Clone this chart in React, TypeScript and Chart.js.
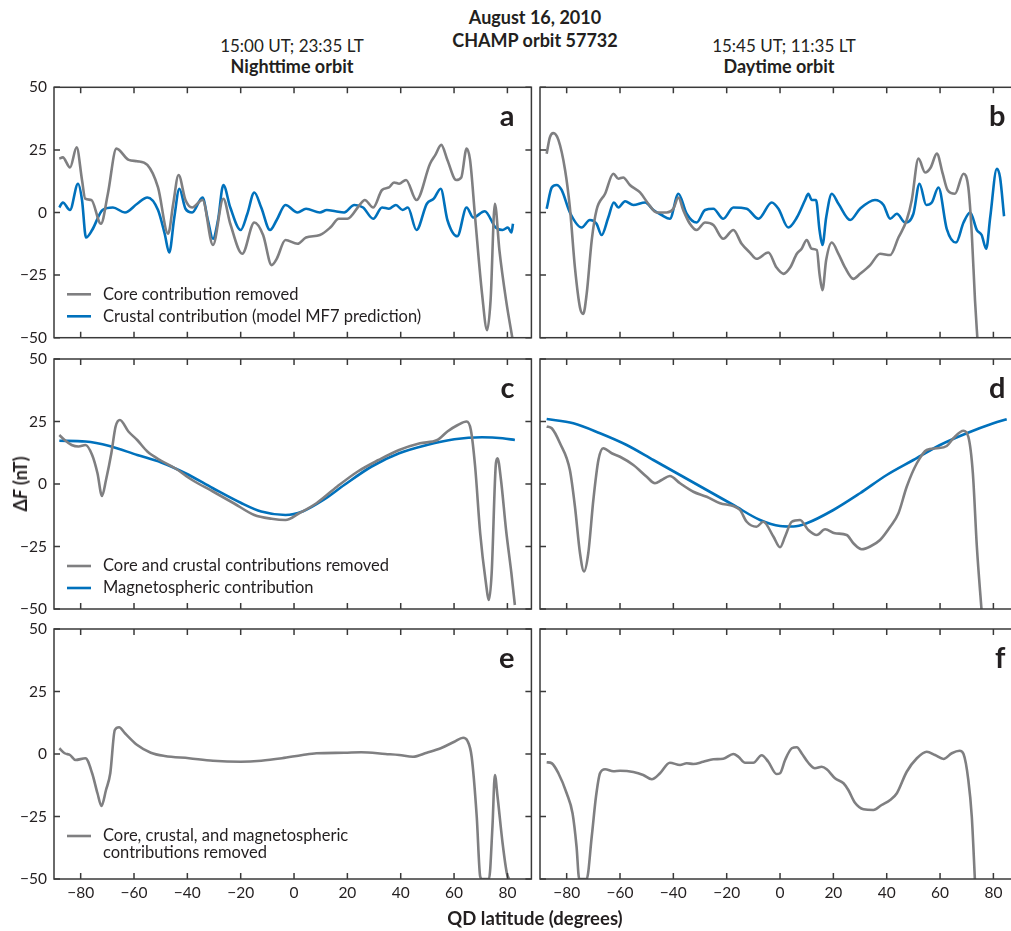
import React, { useEffect, useRef } from 'react';
import { Chart, registerables } from 'chart.js';

Chart.register(...registerables);

const FONT = 'Lato, "Open Sans", sans-serif';
const TEXT = '#231f20';
const FRAME = '#3a3a3a';
const GRAY = '#7f7f81';
const BLUE = '#0071bc';

const X_MIN = -90;
const X_MAX = 89;
const Y_MIN = -50;
const Y_MAX = 50;
const X_TICKS = [-80, -60, -40, -20, 0, 20, 40, 60, 80];
const Y_TICKS = [-50, -25, 0, 25, 50];

type Pt = [number, number];

// Panel a — nighttime, core removed / crustal model
const aCoreRemoved: Pt[] = [
  [-88, 21.5], [-86.7, 22], [-84, 18], [-81.5, 26], [-79.5, 13], [-78.3, 5.5], [-76, 5], [-72.4, -4.5],
  [-69.8, 7.5], [-66.6, 25.5], [-62, 21], [-58.8, 20.5], [-55, 19], [-51, 10], [-47.2, -8.5], [-45.3, 3.5],
  [-43.3, 15], [-40.7, 5], [-38.2, 2], [-34.3, 5], [-30.4, -13], [-26.5, 5.5], [-23.9, -4.5], [-19.4, -16.5],
  [-14.9, -4], [-11.6, -9], [-8.4, -21], [-6.5, -18.5], [-3.2, -11], [1.3, -12.5], [4.5, -10], [9.7, -9],
  [13.6, -6], [16.8, -2.5], [20, -2.5], [24.6, 3], [26.5, 5], [29.7, 2], [33, 9], [35.6, 10], [37.5, 12],
  [39.4, 11.5], [42, 13], [45.9, 5], [51, 19.5], [53, 23], [55.2, 27], [57.5, 21], [60.8, 13], [62.7, 14],
  [64.7, 25.5], [66, 21], [67.9, -2], [70.5, -32.5], [72.4, -47], [73.7, -35], [75.3, 3.5], [77, -15],
  [79.5, -35], [82, -51],
];
const aCrustal: Pt[] = [
  [-88, 2], [-86.7, 4], [-84, 1], [-81, 11.5], [-79.5, 5], [-78, -10], [-75.7, -7], [-71.8, 1], [-67.9, 2],
  [-63.4, 0], [-58.8, 3.5], [-55, 6], [-51, 1], [-48.5, -8.5], [-46.8, -16], [-44.9, -2], [-43, 9.5],
  [-40.7, 1.5], [-38.2, 0], [-34.3, 6], [-32.3, -3], [-30.4, -10.5], [-28.5, -3], [-26.5, 11], [-23.9, 2],
  [-20, -7], [-17.5, -0.5], [-14.9, 8], [-12.3, 2], [-9, -7], [-6.5, -3], [-3.2, 3], [1.3, 0], [4.5, 1.5],
  [9.7, 0], [12.3, 1], [15.5, 0.5], [18.8, 0], [22.6, 3], [25.9, 2], [29.7, -2.5], [33, 2], [35.6, 1.5],
  [38.2, 3], [40.7, 1], [42.7, 2], [45.9, -7], [49.8, 3.5], [52.4, 5.5], [55, 9.5], [57.5, -3], [61.2, -9.5],
  [64.7, 2], [67.2, -2], [71.5, 0.5], [75.6, -6], [78.2, -7], [80.2, -6], [81.5, -8], [82.1, -4.5],
];

// Panel b — daytime, core removed / crustal model
const bCoreRemoved: Pt[] = [
  [-87.5, 23.5], [-86.3, 30], [-85, 31.7], [-83.1, 29], [-80.6, 17], [-78.8, 2], [-76.9, -22], [-75, -38],
  [-73.8, -40.5], [-72.5, -32.5], [-70.6, -11], [-68.8, 1], [-65.6, 7.5], [-62.5, 15.5], [-60.6, 13.5],
  [-58.8, 14], [-56.3, 11], [-52.5, 8], [-49.4, 3.5], [-46.3, 0], [-42.5, 0], [-40, 1.5], [-38.1, 6],
  [-36.3, 1], [-33.8, -4.5], [-31.3, -7], [-28.1, -4], [-25, -5], [-21.3, -10.5], [-17.5, -7], [-14.4, -12.5],
  [-11.3, -16], [-8.8, -18.5], [-4.4, -16], [-1.3, -22], [1.3, -24.5], [3.8, -22], [6.3, -16.5], [8.1, -14.5],
  [10, -11], [11.9, -14.5], [13.8, -15], [14.8, -24.5], [15.9, -31], [17.3, -19], [19.4, -12], [21.9, -16.5],
  [24.4, -22], [27.5, -26.5], [30, -24.5], [33.8, -21], [37.5, -16.5], [41.3, -17], [44.4, -10], [47.5, -3],
  [49.4, 5], [51.9, 21.5], [54.4, 16], [56.5, 18], [58.8, 23.5], [61, 15.5], [62.8, 9], [65.6, 7.5],
  [68.8, 15.5], [70.6, 10], [71.9, -8.5], [73.1, -35], [74.1, -52],
];
const bCrustal: Pt[] = [
  [-87.5, 1.5], [-85.6, 10], [-83.8, 11], [-81.9, 9], [-78.8, 0], [-74.4, -6], [-71.3, -3], [-68.8, -4.5],
  [-66.9, -9], [-64.4, -2], [-62.3, 4], [-60.6, 2], [-58.1, 4.5], [-55, 3], [-50.6, 4], [-47.5, 1],
  [-44.4, -1], [-41.3, -2.5], [-38.1, 7.5], [-35, -0.5], [-31.3, -4], [-28.1, 1], [-25, 1.5], [-21.3, -2.5],
  [-17.5, 2], [-12.5, 1.5], [-8.1, -2.5], [-3.1, 4], [-0.6, 1.5], [3.1, -6], [6.3, -2], [9.4, 5], [10.6, 7.5],
  [11.9, 5], [13.5, 5], [14.8, -7], [15.9, -13], [17.3, -2], [19.4, 7.5], [21.9, 3.5], [26.3, -3], [30, 1.5],
  [35.6, 5], [38.8, 3], [41.3, -2.5], [43.8, -0.5], [46.9, -4], [50, -0.5], [52.3, 11.5], [54.8, 3],
  [56.9, 4], [59.4, 10], [62.5, -6.5], [66, -12], [68.8, -4], [71.3, 0], [73.8, -7], [75.6, -9],
  [77.3, -14.5], [78.8, -2], [81.3, 17.5], [82.5, 14], [84, -1.5],
];

// Panel c — nighttime, core+crustal removed / magnetospheric
const cResidual: Pt[] = [
  [-88, 19.6], [-86, 17.6], [-83.4, 15.6], [-80.8, 15], [-78.2, 15.6], [-75.7, 11.6], [-73.7, 4.3],
  [-72, -4.8], [-70.5, 1.6], [-68.5, 12.3], [-66.9, 23], [-65.3, 25.6], [-62.1, 21], [-58.8, 17.6],
  [-55, 13], [-49.8, 9.3], [-44.6, 6.3], [-38.2, 1.6], [-30.4, -3], [-22.6, -7.7], [-14.9, -12.4],
  [-8.4, -13.9], [-3.2, -14.4], [1.9, -11.7], [8.4, -7.7], [16.2, -1], [23.9, 5], [31.7, 9.6], [39.4, 13.6],
  [47.2, 16.3], [53.7, 17.6], [57.5, 21], [61.4, 23.6], [64.7, 25], [66.3, 21.6], [67.9, 7], [69.8, -19.7],
  [71.8, -38.4], [73.1, -46.4], [74.1, -35.7], [75.7, 8.3], [76.3, 10.3], [77.6, 1.6], [79.5, -18.4],
  [81.5, -35.7], [82.8, -48.4],
];
const cMagnetospheric: Pt[] = [
  [-88, 17.3], [-78.2, 17], [-69.2, 15.2], [-58.8, 11.6], [-49.8, 8.6], [-40.7, 4.3], [-30.4, -1.7],
  [-20, -7.5], [-12.3, -11], [-3.2, -12.4], [3.2, -11], [11, -6.4], [18.8, -0.4], [29.1, 7], [39.4, 12.3],
  [49.8, 15.6], [60.1, 17.9], [70.5, 18.7], [78.2, 18.3], [82.8, 17.6],
];

// Panel d — daytime, core+crustal removed / magnetospheric
const dResidual: Pt[] = [
  [-87.5, 23], [-85.6, 22.3], [-82.5, 16.3], [-78.8, 5.6], [-76.9, -9], [-75, -27.7], [-73.5, -35],
  [-71.9, -27.7], [-70, -6.4], [-68.1, 9.6], [-66.3, 14.3], [-63.1, 12.3], [-60, 10.9], [-55, 7.6],
  [-50, 2.9], [-46.9, 0.3], [-44.4, 1.6], [-41.3, 3.2], [-37.5, 0.3], [-32.5, -3.1], [-27.5, -5.1],
  [-22.5, -7.7], [-17.5, -8.8], [-15, -10.4], [-12.5, -15.1], [-8.8, -17.1], [-6.3, -15.1], [-2.5, -21],
  [0, -25.3], [1.9, -21], [4.4, -15.1], [7.5, -14.4], [10.6, -18.4], [13.8, -20.4], [16.9, -18.1],
  [20.6, -19.7], [25, -20.4], [27.5, -23.7], [30.6, -26.1], [33.8, -25], [37.5, -22.4], [41.3, -17.1],
  [44.4, -11.7], [47.5, -1.1], [51.3, 8.3], [55, 13.6], [58.8, 14.3], [62.5, 15.2], [65, 18.3], [68.8, 21.3],
  [70.6, 18.9], [72.3, 4.3], [73.8, -25.1], [75.6, -51],
];
const dMagnetospheric: Pt[] = [
  [-87.5, 26], [-77.5, 24.3], [-67.5, 20.3], [-57.5, 15.6], [-47.5, 9.6], [-37.5, 3.6], [-27.5, -2.4],
  [-17.5, -8.4], [-7.5, -14.4], [0, -16.8], [5, -17], [10, -15.7], [20, -10.4], [30, -3.7], [40, 3.6],
  [50, 9.6], [60, 15.6], [70, 20.3], [80, 24.3], [85, 25.9],
];

// Panel e — nighttime, all removed
const eResidual: Pt[] = [
  [-88, 2.3], [-86, 0.3], [-84, -0.4], [-81.9, -2.4], [-78.2, -1.7], [-75.7, -7.7], [-73.7, -15.7],
  [-72.2, -20.8], [-70.5, -14.4], [-68.9, -7.7], [-67.2, 9.6], [-65.6, 10.7], [-63.4, 8.3], [-58.8, 3.6],
  [-53.7, 0.5], [-48.5, -0.8], [-39.4, -1.7], [-30.4, -2.7], [-20, -3.1], [-12.3, -2.7], [-4.5, -1.7],
  [3.2, -0.4], [8.4, 0.3], [18.8, 0.5], [25.2, 0.7], [34.3, 0], [39.4, -0.4], [44.6, -1.1], [49.8, 0.5],
  [55, 2.3], [60.1, 4.9], [63.4, 6.5], [65, 5.3], [66.6, -1.1], [68.5, -25], [69.8, -49], [70.5, -50],
  [73.1, -50], [74.4, -29], [75.3, -8.4], [76.3, -17], [78.2, -35.7], [79.8, -47.7], [80.6, -50],
];

// Panel f — daytime, all removed
const fResidual: Pt[] = [
  [-87.5, -3.3], [-85.6, -3.7], [-83.1, -7.7], [-80, -15.7], [-77.8, -23.7], [-76.3, -37], [-75.3, -50],
  [-72.5, -50], [-70.6, -33], [-69, -17], [-67.5, -7.7], [-65.6, -6.1], [-62.5, -6.9], [-60, -6.7],
  [-55, -7.2], [-51.3, -8.4], [-48.1, -10.1], [-45, -7.7], [-41.3, -3.5], [-37.5, -4.4], [-35, -3.7],
  [-32.5, -4], [-28.8, -3.1], [-25, -2.1], [-21.3, -1.9], [-17.5, 0], [-15.6, -1.1], [-13.1, -3.5],
  [-10, -3.5], [-6.9, -0.5], [-4.4, -3.1], [-1.3, -8], [0, -7.7], [1.9, -2.4], [4.4, 2.3], [6.3, 2.7],
  [8.1, 0.3], [10.6, -3.5], [13.1, -5.7], [15.6, -5.1], [17.5, -6.1], [20.6, -9.7], [23.8, -11.7],
  [25.6, -14.4], [28.1, -19.5], [31.3, -22.1], [35, -22.4], [38.1, -20.4], [41.3, -18.4], [43.8, -15.7],
  [47.5, -7.1], [51.3, -1.7], [55, 0.9], [58.1, -0.4], [61.3, -2], [64.4, 0.3], [67.3, 1.3], [68.8, 0],
  [70.6, -10.4], [71.9, -25.1], [73.1, -51],
];

type Series = { label?: string; data: Pt[]; color: string };
type Panel = {
  letter: string;
  series: Series[];
  left: number; top: number; width: number; height: number;
  padTop: number; padRight: number; yAxisW: number; xAxisH: number;
  showY: boolean; showX: boolean; letterInset: number;
};

const fmt = (v: number) => (v < 0 ? '\u2212' + Math.abs(v) : String(v));

const panels: Panel[] = [
  { letter: 'a', series: [
      { label: 'Core contribution removed', data: aCoreRemoved, color: GRAY },
      { label: 'Crustal contribution (model MF7 prediction)', data: aCrustal, color: BLUE }],
    left: 0, top: 75, width: 540, height: 270, padTop: 12.3, padRight: 8.6, yAxisW: 54, xAxisH: 7.3,
    showY: true, showX: false, letterInset: 17 },
  { letter: 'b', series: [
      { data: bCoreRemoved, color: GRAY },
      { data: bCrustal, color: BLUE }],
    left: 536, top: 75, width: 490, height: 270, padTop: 12.3, padRight: 8.6, yAxisW: 4, xAxisH: 7.3,
    showY: false, showX: false, letterInset: 12 },
  { letter: 'c', series: [
      { label: 'Core and crustal contributions removed', data: cResidual, color: GRAY },
      { label: 'Magnetospheric contribution', data: cMagnetospheric, color: BLUE }],
    left: 0, top: 347, width: 540, height: 268, padTop: 12, padRight: 8.6, yAxisW: 54, xAxisH: 6,
    showY: true, showX: false, letterInset: 17 },
  { letter: 'd', series: [
      { data: dResidual, color: GRAY },
      { data: dMagnetospheric, color: BLUE }],
    left: 536, top: 347, width: 490, height: 268, padTop: 12, padRight: 8.6, yAxisW: 4, xAxisH: 6,
    showY: false, showX: false, letterInset: 12 },
  { letter: 'e', series: [
      { label: 'Core, crustal, and magnetospheric\ncontributions removed', data: eResidual, color: GRAY }],
    left: 0, top: 617, width: 540, height: 314, padTop: 12, padRight: 8.6, yAxisW: 54, xAxisH: 52,
    showY: true, showX: true, letterInset: 17 },
  { letter: 'f', series: [{ data: fResidual, color: GRAY }],
    left: 536, top: 617, width: 490, height: 314, padTop: 12, padRight: 8.6, yAxisW: 4, xAxisH: 52,
    showY: false, showX: true, letterInset: 12 },
];

function makeDecor(panel: Panel) {
  return {
    id: 'decor' + panel.letter,
    afterDraw(chart: any) {
      const { ctx, chartArea: ca, scales } = chart;
      const xs = scales.x, ys = scales.y;
      ctx.save();
      ctx.strokeStyle = FRAME;
      ctx.lineWidth = 1.5;
      ctx.strokeRect(ca.left, ca.top, ca.right - ca.left, ca.bottom - ca.top);
      const TL = 6;
      ctx.beginPath();
      X_TICKS.forEach((v) => {
        const px = xs.getPixelForValue(v);
        ctx.moveTo(px, ca.top); ctx.lineTo(px, ca.top + TL);
        ctx.moveTo(px, ca.bottom); ctx.lineTo(px, ca.bottom - TL);
      });
      Y_TICKS.forEach((v) => {
        const py = ys.getPixelForValue(v);
        ctx.moveTo(ca.left, py); ctx.lineTo(ca.left + TL, py);
        ctx.moveTo(ca.right, py); ctx.lineTo(ca.right - TL, py);
      });
      ctx.stroke();
      ctx.fillStyle = TEXT;
      ctx.font = 'bold 29px ' + FONT;
      ctx.textAlign = 'right';
      ctx.textBaseline = 'alphabetic';
      ctx.fillText(panel.letter, ca.right - panel.letterInset, ca.top + 39);
      ctx.font = '16.5px ' + FONT;
      ctx.textAlign = 'left';
      ctx.textBaseline = 'middle';
      let rowY = ca.top + 207;
      chart.data.datasets.forEach((ds: any) => {
        if (!ds.label) return;
        ctx.strokeStyle = ds.borderColor;
        ctx.lineWidth = 2.6;
        ctx.beginPath();
        ctx.moveTo(ca.left + 13, rowY);
        ctx.lineTo(ca.left + 37, rowY);
        ctx.stroke();
        const lines = String(ds.label).split('\n');
        lines.forEach((ln, i) => {
          ctx.fillText(ln, ca.left + 49, rowY + i * 17);
        });
        rowY += 22 + (lines.length - 1) * 17;
      });
      ctx.restore();
    },
  };
}

function PanelChart({ panel }: { panel: Panel }) {
  const ref = useRef<HTMLCanvasElement>(null);
  useEffect(() => {
    if (!ref.current) return;
    const chart = new Chart(ref.current, {
      type: 'line',
      data: {
        datasets: panel.series.map((s) => ({
          label: s.label,
          data: s.data.map(([x, y]) => ({ x, y })),
          borderColor: s.color,
          backgroundColor: s.color,
          borderWidth: 2.6,
          pointRadius: 0,
          fill: false,
          cubicInterpolationMode: 'monotone',
        })),
      },
      options: {
        animation: false,
        responsive: false,
        maintainAspectRatio: false,
        events: [],
        layout: { padding: { top: panel.padTop, right: panel.padRight, left: 0, bottom: 0 } },
        plugins: { legend: { display: false }, tooltip: { enabled: false }, title: { display: false } },
        scales: {
          x: {
            type: 'linear',
            min: X_MIN,
            max: X_MAX,
            grid: { display: false, drawTicks: false },
            border: { display: false },
            ticks: {
              display: panel.showX,
              padding: 14,
              maxRotation: 0,
              autoSkip: false,
              color: TEXT,
              font: { family: FONT, size: 15.5, lineHeight: 0.01 },
              callback: (v: any) => fmt(Number(v)),
            },
            afterBuildTicks: (s: any) => { s.ticks = X_TICKS.map((v) => ({ value: v })); },
            afterFit: (s: any) => { s.height = panel.xAxisH; s.paddingLeft = 0; s.paddingRight = 0; },
          },
          y: {
            type: 'linear',
            min: Y_MIN,
            max: Y_MAX,
            grid: { display: false, drawTicks: false },
            border: { display: false },
            ticks: {
              display: panel.showY,
              padding: 7,
              color: TEXT,
              font: { family: FONT, size: 15.5, lineHeight: 0.01 },
              callback: (v: any) => fmt(Number(v)),
            },
            afterBuildTicks: (s: any) => { s.ticks = Y_TICKS.map((v) => ({ value: v })); },
            afterFit: (s: any) => { s.width = panel.yAxisW; s.paddingTop = 0; s.paddingBottom = 0; },
          },
        },
      } as any,
      plugins: [makeDecor(panel)],
    });
    return () => chart.destroy();
  }, [panel]);
  return (
    <canvas
      ref={ref}
      width={panel.width}
      height={panel.height}
      style={{ position: 'absolute', left: panel.left, top: panel.top, width: panel.width, height: panel.height }}
    />
  );
}

const label = (text: React.ReactNode, x: number, y: number, bold: boolean, size: number) => (
  <div
    style={{
      position: 'absolute', left: x, top: y, transform: 'translate(-50%, -50%)', whiteSpace: 'nowrap',
      fontFamily: FONT, fontWeight: bold ? 700 : 400, fontSize: size, color: TEXT, lineHeight: 1,
    }}
  >
    {text}
  </div>
);

export default function App() {
  return (
    <div style={{ position: 'fixed', left: 0, top: 0, width: 1011, height: 931, overflow: 'hidden', background: '#fff' }}>
      {label('August 16, 2010', 535, 17, true, 18)}
      {label('CHAMP orbit 57732', 535, 40, true, 18)}
      {label('15:00 UT; 23:35 LT', 292, 45, false, 17)}
      {label('Nighttime orbit', 292, 66, true, 18)}
      {label('15:45 UT; 11:35 LT', 784, 45, false, 17)}
      {label('Daytime orbit', 779, 66, true, 18)}
      {panels.map((p) => <PanelChart key={p.letter} panel={p} />)}
      <div
        style={{
          position: 'absolute', left: 20, top: 484, transform: 'translate(-50%, -50%) rotate(-90deg)', whiteSpace: 'nowrap',
          fontFamily: FONT, fontWeight: 700, fontSize: 18, color: TEXT, lineHeight: 1,
        }}
      >
        {'\u0394'}<i>F</i> (nT)
      </div>
      {label('QD latitude (degrees)', 535, 918, true, 18.5)}
    </div>
  );
}
